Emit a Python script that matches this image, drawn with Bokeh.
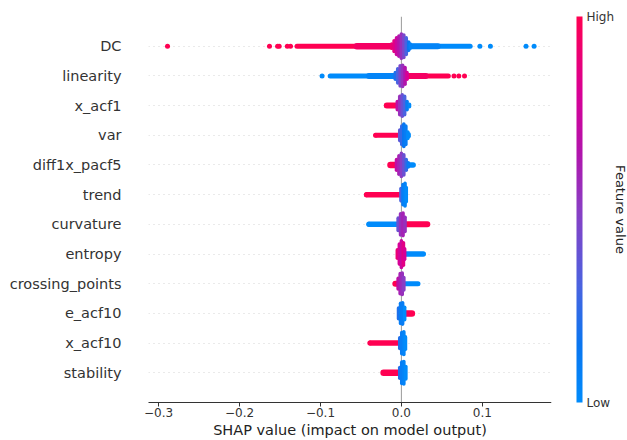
import numpy as np
from bokeh.plotting import figure
from bokeh.models import (ColumnDataSource, LinearColorMapper, ColorBar, FixedTicker,
                          Title, Span, LinearAxis, CustomJSTickFormatter)
from bokeh.embed import file_html
from bokeh.resources import INLINE

# ---------------- data ----------------
features = ["DC", "linearity", "x_acf1", "var", "diff1x_pacf5", "trend",
            "curvature", "entropy", "crossing_points", "e_acf10", "x_acf10", "stability"]

x_ticks = [-0.3, -0.2, -0.1, 0.0, 0.1]
x_tick_labels = ["\u22120.3", "\u22120.2", "\u22120.1", "0.0", "0.1"]

# isolated points: (shap value, feature value 0=low..1=high)
DC_dots = [(-0.289, 1), (-0.163, 1), (-0.153, 1), (-0.151, 1), (-0.141, 1), (-0.137, 1),
           (0.097, 0), (0.110, 0), (0.154, 0), (0.164, 0)]
linearity_dots = [(-0.098, 0), (0.065, 1), (0.071, 1), (0.078, 1)]
x_acf1_dots = [(-0.0185, 1)]
var_dots = [(-0.032, 1)]
diff1x_pacf5_dots = []
trend_dots = [(-0.043, 1)]
curvature_dots = [(-0.040, 0)]
entropy_dots = []
crossing_points_dots = []
e_acf10_dots = []
x_acf10_dots = [(-0.039, 1)]
stability_dots = [(-0.022, 1)]

# runs of overlapping points: (shap from, shap to, feature value, density)
DC_runs = [(-0.129, -0.010, 1.0, 1.0), (-0.055, -0.008, 0.95, 1.3),
           (0.008, 0.085, 0.0, 1.0), (0.008, 0.045, 0.05, 1.2)]
linearity_runs = [(-0.088, -0.006, 0.0, 1.0), (-0.040, -0.005, 0.05, 1.2),
                  (0.006, 0.058, 1.0, 1.0), (0.006, 0.030, 0.95, 1.2)]
x_acf1_runs = [(-0.018, -0.003, 1.0, 1.2)]
var_runs = [(-0.031, -0.002, 1.0, 1.0)]
diff1x_pacf5_runs = [(-0.0135, -0.004, 1.0, 1.3), (0.006, 0.0145, 0.0, 1.1)]
trend_runs = [(-0.043, -0.001, 1.0, 1.1)]
curvature_runs = [(-0.040, -0.002, 0.0, 1.1), (0.002, 0.032, 1.0, 1.2)]
entropy_runs = [(0.004, 0.027, 0.0, 1.1)]
crossing_points_runs = [(-0.0075, -0.003, 1.0, 1.2), (0.003, 0.0205, 0.0, 1.0)]
e_acf10_runs = [(0.003, 0.013, 1.0, 1.3)]
x_acf10_runs = [(-0.038, -0.002, 1.0, 1.1)]
stability_runs = [(-0.022, -0.002, 1.0, 1.3)]

# dense core columns: (shap value, half spread in rows, mean feature value)
DC_core = [(-0.012, 0.13, 0.9), (-0.009, 0.24, 0.85), (-0.006, 0.34, 0.75), (-0.003, 0.40, 0.65),
           (0.0, 0.47, 0.55), (0.003, 0.44, 0.45), (0.006, 0.34, 0.3), (0.009, 0.20, 0.15),
           (0.011, 0.13, 0.05)]
linearity_core = [(-0.0075, 0.17, 0.2), (-0.0045, 0.30, 0.3), (-0.0015, 0.40, 0.45),
                  (0.0015, 0.42, 0.55), (0.0045, 0.34, 0.65), (0.007, 0.17, 0.8)]
x_acf1_core = [(-0.005, 0.20, 0.7), (-0.002, 0.37, 0.55), (0.001, 0.42, 0.4),
               (0.004, 0.37, 0.3), (0.007, 0.20, 0.1), (0.010, 0.10, 0.0)]
var_core = [(-0.002, 0.24, 0.35), (0.0005, 0.37, 0.25), (0.003, 0.44, 0.15),
            (0.0055, 0.37, 0.1), (0.008, 0.17, 0.0), (0.0095, 0.10, 0.0)]
diff1x_pacf5_core = [(-0.006, 0.24, 0.7), (-0.003, 0.37, 0.6), (0.0, 0.45, 0.5),
                     (0.003, 0.40, 0.4), (0.006, 0.24, 0.25), (0.0085, 0.13, 0.1)]
trend_core = [(-0.0005, 0.27, 0.3), (0.002, 0.40, 0.1), (0.0045, 0.44, 0.05), (0.006, 0.30, 0.0)]
curvature_core = [(-0.004, 0.27, 0.4), (-0.001, 0.42, 0.55), (0.002, 0.44, 0.6), (0.0045, 0.30, 0.55)]
entropy_core = [(-0.005, 0.20, 0.9), (-0.0025, 0.40, 0.8), (0.0, 0.51, 0.75),
                (0.0025, 0.44, 0.85), (0.004, 0.24, 0.8)]
crossing_points_core = [(-0.004, 0.24, 0.7), (-0.0015, 0.40, 0.6), (0.001, 0.42, 0.55), (0.003, 0.27, 0.5)]
e_acf10_core = [(-0.0035, 0.24, 0.2), (-0.001, 0.40, 0.1), (0.0015, 0.42, 0.1), (0.004, 0.27, 0.0)]
x_acf10_core = [(-0.002, 0.24, 0.2), (0.0005, 0.42, 0.1), (0.003, 0.44, 0.05), (0.005, 0.27, 0.0)]
stability_core = [(-0.002, 0.24, 0.2), (0.0005, 0.42, 0.1), (0.003, 0.44, 0.05), (0.0055, 0.27, 0.0)]

dots = [DC_dots, linearity_dots, x_acf1_dots, var_dots, diff1x_pacf5_dots, trend_dots,
        curvature_dots, entropy_dots, crossing_points_dots, e_acf10_dots, x_acf10_dots, stability_dots]
runs = [DC_runs, linearity_runs, x_acf1_runs, var_runs, diff1x_pacf5_runs, trend_runs,
        curvature_runs, entropy_runs, crossing_points_runs, e_acf10_runs, x_acf10_runs, stability_runs]
cores = [DC_core, linearity_core, x_acf1_core, var_core, diff1x_pacf5_core, trend_core,
         curvature_core, entropy_core, crossing_points_core, e_acf10_core, x_acf10_core, stability_core]

# ---------------- colour map (shap red_blue) ----------------
anchors = [(0.0, (0, 139, 251)), (0.15, (10, 118, 240)), (0.3, (74, 99, 224)),
           (0.5, (138, 62, 196)), (0.65, (178, 20, 172)), (0.8, (216, 0, 150)),
           (1.0, (255, 0, 82))]


def cmap(t):
    t = min(max(t, 0.0), 1.0)
    for (t0, c0), (t1, c1) in zip(anchors[:-1], anchors[1:]):
        if t <= t1:
            f = (t - t0) / (t1 - t0) if t1 > t0 else 0
            return "#%02x%02x%02x" % tuple(int(round(a + (b - a) * f)) for a, b in zip(c0, c1))
    return "#%02x%02x%02x" % anchors[-1][1]


palette = [cmap(i / 255) for i in range(256)]

n = len(features)
ROW_PX = 386 / 13.0
DOT_PX = 5

# ---------------- figure ----------------
p = figure(frame_width=403, frame_height=386, x_range=(-0.3125, 0.1855), y_range=(-1, n),
           output_backend="svg", toolbar_location=None,
           min_border_left=148, min_border_top=16, min_border_bottom=0, min_border_right=0)
p.background_fill_color = "white"
p.border_fill_color = "white"
p.outline_line_color = None

# row gridlines (dotted) and zero line
p.xgrid.grid_line_color = None
p.ygrid.ticker = FixedTicker(ticks=list(range(n)))
p.ygrid.grid_line_color = "#d4d4d4"
p.ygrid.grid_line_dash = "1 4"
p.ygrid.grid_line_width = 1
p.add_layout(Span(location=0, dimension="height", line_color="#999999", line_width=1, level="underlay"))

# runs (segments)
rx0, rx1, ry, rc, rw = [], [], [], [], []
for i, rl in enumerate(runs):
    y = n - 1 - i
    for (a, b, c, d) in rl:
        rx0.append(a); rx1.append(b); ry.append(y); rc.append(cmap(c)); rw.append(DOT_PX * d)
p.segment(x0="x0", y0="y", x1="x1", y1="y", line_color="c", line_width="w", line_cap="round",
          source=ColumnDataSource(dict(x0=rx0, x1=rx1, y=ry, c=rc, w=rw)))

# cores (vertical columns)
cx, cy0, cy1, cc = [], [], [], []
cap = 1.8 / ROW_PX
for i, cl in enumerate(cores):
    y = n - 1 - i
    for (x, h, c) in cl:
        hh = max(h - cap, 0.01)
        cx.append(x); cy0.append(y - hh); cy1.append(y + hh); cc.append(cmap(c))
p.segment(x0="x", y0="y0", x1="x", y1="y1", line_color="c", line_width=3.6, line_cap="round",
          source=ColumnDataSource(dict(x=cx, y0=cy0, y1=cy1, c=cc)))

# isolated points
dx, dy, dc = [], [], []
for i, dl in enumerate(dots):
    y = n - 1 - i
    for (x, c) in dl:
        dx.append(x); dy.append(y); dc.append(cmap(c))
p.scatter(x="x", y="y", color="c", size=DOT_PX, line_width=0,
          source=ColumnDataSource(dict(x=dx, y=dy, c=dc)))

# axes
FONT = "DejaVu Sans"
xa = p.xaxis[0]
xa.ticker = FixedTicker(ticks=x_ticks)
xa.formatter = CustomJSTickFormatter(
    args=dict(t=x_ticks, l=x_tick_labels),
    code="const i = t.findIndex(v => Math.abs(v - tick) < 1e-9); return i >= 0 ? l[i] : '';")
xa.minor_tick_line_color = None
xa.major_tick_in = 0
xa.major_tick_out = 4
xa.major_tick_line_color = "#333333"
xa.axis_line_color = "#333333"
xa.major_label_text_font = FONT
xa.major_label_text_font_size = "12px"
xa.major_label_text_color = "#333333"
xa.major_label_standoff = 1
xa.axis_label = "SHAP value (impact on model output)"
xa.axis_label_text_font = FONT
xa.axis_label_text_font_size = "14.5px"
xa.axis_label_text_font_style = "normal"
xa.axis_label_text_color = "#222222"
xa.axis_label_standoff = 2

ya = p.yaxis[0]
ya.ticker = FixedTicker(ticks=list(range(n)))
ya.major_label_overrides = {n - 1 - i: f for i, f in enumerate(features)}
ya.axis_line_color = None
ya.major_tick_line_color = None
ya.minor_tick_line_color = None
ya.major_tick_in = 0
ya.major_tick_out = 0
ya.major_label_standoff = 27
ya.major_label_text_font = FONT
ya.major_label_text_font_size = "14.5px"
ya.major_label_text_color = "#333333"


def spacer_axis(px):
    # invisible axis used only to reserve horizontal room (white tick on white)
    return LinearAxis(ticker=FixedTicker(ticks=[-1]), axis_line_color=None,
                      major_tick_line_color="white", major_tick_line_width=1,
                      minor_tick_line_color=None,
                      major_tick_in=0, major_tick_out=px, minor_tick_out=0,
                      major_label_overrides={-1: " "},
                      major_label_text_font_size="1px", major_label_standoff=0)


p.add_layout(spacer_axis(22), "right")

# colour bar
mapper = LinearColorMapper(palette=palette, low=0, high=1)
cb = ColorBar(color_mapper=mapper, ticker=FixedTicker(ticks=[0, 1]),
              major_label_overrides={0: "Low", 1: "High"},
              width=6, height=386, margin=0, padding=0,
              major_tick_line_color=None, minor_tick_line_color=None,
              bar_line_color=None, border_line_color=None, background_fill_color=None,
              label_standoff=4, major_label_text_font=FONT,
              major_label_text_font_size="12px", major_label_text_color="#333333")
p.add_layout(cb, "right")
p.add_layout(Title(text="Feature value", align="center", text_font=FONT, standoff=-10,
                   text_font_size="13px", text_font_style="normal", text_color="#222222"), "right")
p.add_layout(spacer_axis(6), "right")

open("out.html", "w").write(file_html(p, INLINE))
